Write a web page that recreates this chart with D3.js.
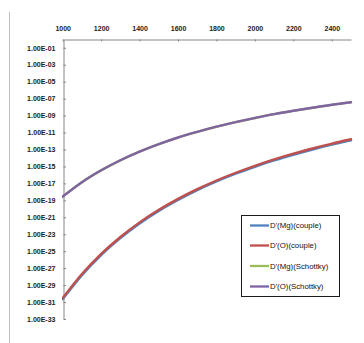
<!DOCTYPE html>
<html>
<head>
<meta charset="utf-8">
<script src="https://cdn.jsdelivr.net/npm/d3@7"></script>
<style>
  html, body { margin: 0; padding: 0; background: #fff; }
  svg { display: block; }
</style>
</head>
<body>
<svg id="chart" width="364" height="343"></svg>
<script>
// ---- data ----
const temperatures = [1000, 1100, 1200, 1300, 1400, 1500, 1600, 1700, 1800, 1900, 2000, 2100, 2200, 2300, 2400, 2500];
const seriesNames = ["D'(Mg)(couple)", "D'(O)(couple)", "D'(Mg)(Schottky)", "D'(O)(Schottky)"];
const mgCouple = [2.2e-31, 1.5e-28, 3.5e-26, 3.5e-24, 1.9e-22, 5.7e-21, 1.1e-19, 1.6e-18, 1.7e-17, 1.4e-16, 9.0e-16, 5.1e-15, 2.4e-14, 1.0e-13, 3.7e-13, 1.2e-12];
const oCouple = [2.9e-31, 2.0e-28, 4.7e-26, 4.7e-24, 2.5e-22, 7.6e-21, 1.5e-19, 2.1e-18, 2.2e-17, 1.8e-16, 1.2e-15, 6.8e-15, 3.2e-14, 1.3e-13, 4.9e-13, 1.6e-12];
const mgSchottky = [2.7e-19, 1.35e-17, 3.4e-16, 5.3e-15, 5.5e-14, 4.2e-13, 2.55e-12, 1.2e-11, 4.8e-11, 1.7e-10, 5.1e-10, 1.5e-9, 3.6e-9, 8.4e-9, 1.85e-8, 3.75e-8];
const oSchottky = [2.8e-19, 1.4e-17, 3.5e-16, 5.4e-15, 5.6e-14, 4.3e-13, 2.6e-12, 1.2e-11, 4.9e-11, 1.7e-10, 5.2e-10, 1.5e-9, 3.7e-9, 8.5e-9, 1.9e-8, 3.8e-8];
const xTickValues = [1000, 1200, 1400, 1600, 1800, 2000, 2200, 2400];
const yTickValues = [1e-1, 1e-3, 1e-5, 1e-7, 1e-9, 1e-11, 1e-13, 1e-15, 1e-17, 1e-19, 1e-21, 1e-23, 1e-25, 1e-27, 1e-29, 1e-31, 1e-33];
const xDomain = [1000, 2500];
const yDomain = [1e-33, 1e0];

// ---- styles ----
const colors = ["#4F81BD", "#C0504D", "#9BBB59", "#8064A2"];
const allSeries = [mgCouple, oCouple, mgSchottky, oSchottky];

const svg = d3.select("#chart");
svg.append("rect").attr("width", 364).attr("height", 343).attr("fill", "#fff");

// left frame line
svg.append("line").attr("x1", 9.5).attr("x2", 9.5).attr("y1", 12).attr("y2", 343)
  .attr("stroke", "#bdbdbd").attr("stroke-width", 1);

const x = d3.scaleLinear().domain(xDomain).range([62.7, 351]);
const y = d3.scaleLog().domain(yDomain).range([319, 39.3]);

const fmt = v => {
  const e = Math.round(Math.log10(v));
  const a = Math.abs(e);
  return "1.00E" + (e < 0 ? "-" : "+") + (a < 10 ? "0" : "") + a;
};

// clip
svg.append("defs").append("clipPath").attr("id", "plotclip")
  .append("rect").attr("x", 62).attr("y", 38).attr("width", 292).attr("height", 283);

// x axis at top
const xAxis = svg.append("g").attr("transform", `translate(0,${Math.round(y(1e0)) + 0.5})`)
  .call(d3.axisTop(x).tickValues(xTickValues).tickSize(-2).tickSizeOuter(0).tickPadding(9).tickFormat(d3.format("d")));
xAxis.select(".domain").attr("stroke", "#868686");
xAxis.selectAll(".tick line").attr("stroke", "#868686");
xAxis.selectAll(".tick text").attr("font-family", "Liberation Sans, Arial, sans-serif")
  .attr("font-size", 7).attr("font-weight", "bold").attr("fill", "#222");

// y axis
const yAxis = svg.append("g").attr("transform", `translate(${Math.round(x(1000)) + 0.5},0)`)
  .call(d3.axisLeft(y).tickValues(yTickValues).tickSize(-2.5).tickSizeOuter(0).tickPadding(8).tickFormat(fmt));
yAxis.select(".domain").attr("stroke", "#868686");
yAxis.selectAll(".tick line").attr("stroke", "#868686");
yAxis.selectAll(".tick text").attr("font-family", "Liberation Sans, Arial, sans-serif")
  .attr("font-size", 7).attr("font-weight", "bold").attr("fill", "#222");

// lines
const line = d3.line()
  .x((d, i) => x(temperatures[i]))
  .y(d => y(d))
  .curve(d3.curveMonotoneX);

const plot = svg.append("g").attr("clip-path", "url(#plotclip)");
allSeries.forEach((s, k) => {
  plot.append("path").datum(s).attr("d", line)
    .attr("fill", "none").attr("stroke", colors[k]).attr("stroke-width", 2.4)
    .attr("stroke-linecap", "round");
});

// legend
const lg = svg.append("g");
lg.append("rect").attr("x", 241.5).attr("y", 215.5).attr("width", 98).attr("height", 81)
  .attr("fill", "#fff").attr("stroke", "#1a1a1a").attr("stroke-width", 1);
const legendY = [225.5, 245.5, 266, 286.5];
seriesNames.forEach((name, k) => {
  lg.append("line").attr("x1", 250).attr("x2", 269).attr("y1", legendY[k]).attr("y2", legendY[k])
    .attr("stroke", colors[k]).attr("stroke-width", 2.3);
  lg.append("text").attr("x", 270).attr("y", legendY[k]).attr("dy", "0.35em")
    .attr("font-family", "Liberation Sans, Arial, sans-serif").attr("font-size", 7.8)
    .attr("fill", "#111").text(name);
});
</script>
</body>
</html>
